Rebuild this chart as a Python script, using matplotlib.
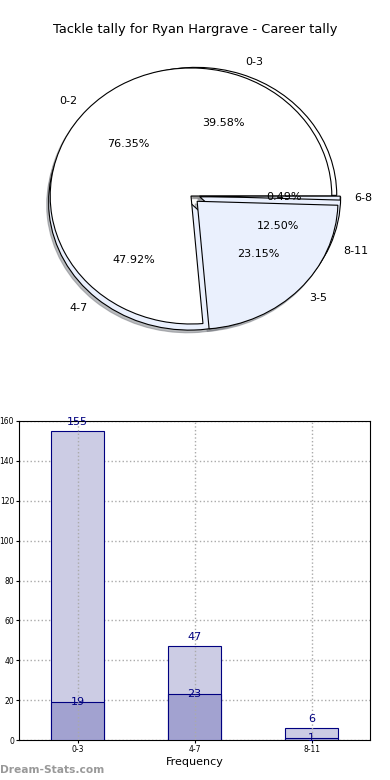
import matplotlib
matplotlib.use("Agg")
import matplotlib.pyplot as plt
import numpy as np

title = "Tackle tally for Ryan Hargrave - Career tally"

# Pie 1 (drawn on top)
pie1_labels = ["0-2", "3-5", "6-8"]
pie1_values = [155, 47, 1]
# Pie 2 (drawn below)
pie2_labels = ["0-3", "4-7", "8-11"]
pie2_values = [19, 23, 6]

# Bar chart
bar_categories = ["0-3", "4-7", "8-11"]
bar_total = [155, 47, 6]
bar_inner = [19, 23, 1]

fig = plt.figure(figsize=(3.9, 7.8), dpi=100)
fig.text(0.5, 1 - 30 / 780, title, ha="center", va="center", fontsize=9.4)

axp = fig.add_axes([15 / 390, 1 - 356 / 780, 352 / 390, 320 / 780])
white = "#ffffff"
lblue = "#eaf0fd"
shadow = dict(ox=-0.01, oy=-0.015, shade=0.5)
axp.pie(pie2_values, labels=pie2_labels, autopct="%1.2f%%", shadow=shadow,
        explode=(0, 0.07, 0.03), center=(0.035, 0.005), colors=[white, lblue, lblue],
        wedgeprops=dict(edgecolor="black", linewidth=0.8),
        textprops=dict(fontsize=8))
axp.pie(pie1_values, labels=pie1_labels, autopct="%1.2f%%", shadow=shadow,
        explode=(0, 0.06, 0.06), colors=[white, lblue, lblue],
        wedgeprops=dict(edgecolor="black", linewidth=0.8),
        textprops=dict(fontsize=8))
axp.set_aspect("auto")
axp.set_xlim(-1.25, 1.25)
axp.set_ylim(-1.25, 1.25)

axb = fig.add_axes([19 / 390, 1 - 740 / 780, 351 / 390, 319 / 780])
x = np.arange(len(bar_categories))
w = 0.45
navy = "#000080"
axb.bar(x, bar_total, w, color="#ccccE4", edgecolor=navy, linewidth=0.8, zorder=2)
axb.bar(x, bar_inner, w, color="#a2a2d0", edgecolor=navy, linewidth=0.8, zorder=3)
for xi, v in zip(x, bar_total):
    axb.text(xi, v + 4.5, str(v), ha="center", va="center", color=navy, fontsize=8, zorder=5)
for xi, v in zip(x, bar_inner):
    axb.text(xi, v, str(v), ha="center", va="center", color=navy, fontsize=8, zorder=5)
axb.set_xlim(-0.5, 2.5)
axb.set_ylim(0, 160)
axb.set_yticks(range(0, 161, 20))
axb.set_xticks(x)
axb.set_xticklabels(bar_categories)
axb.tick_params(labelsize=5.5, length=2, pad=1.5)
axb.yaxis.grid(True, linestyle=":", color="#aaaaaa", linewidth=1, zorder=1)
axb.set_axisbelow(True)
for xi in x:
    axb.axvline(xi, linestyle=":", color="#aaaaaa", linewidth=1, zorder=4)
axb.set_xlabel("Frequency", fontsize=8, labelpad=2)

fig.text(0, 10 / 780, "Dream-Stats.com", color="#999999", fontsize=7.7, fontweight="bold", ha="left", va="center")

fig.savefig("out.png", dpi=100)
